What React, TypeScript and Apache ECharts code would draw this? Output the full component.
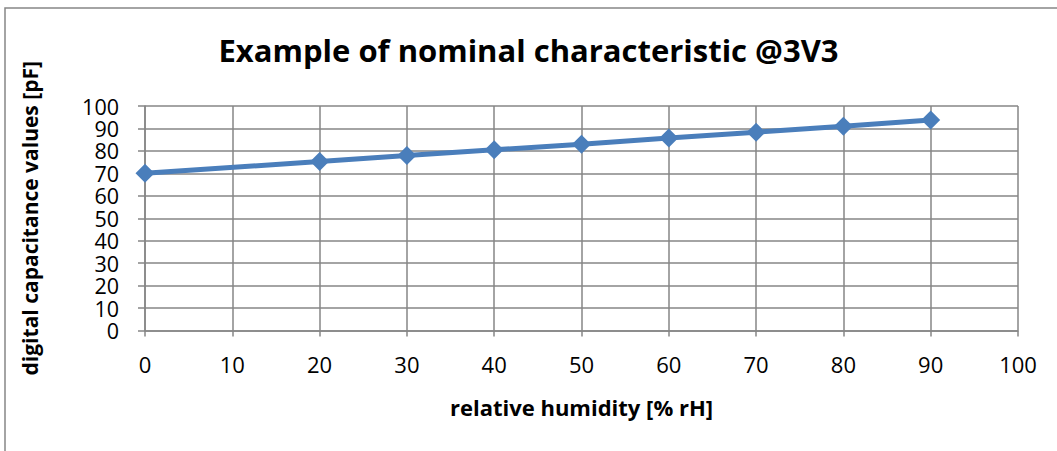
import React, { useEffect, useRef } from "react";
import * as echarts from "echarts";

const humidity = [0, 20, 30, 40, 50, 60, 70, 80, 90];
const capacitance = [70, 75.3, 78, 80.5, 83, 85.7, 88.3, 91, 93.8];
const titleText = "Example of nominal characteristic @3V3";
const xName = "relative humidity [% rH]";
const yName = "digital capacitance values [pF]";

const FONT = "'Open Sans', 'Liberation Sans', sans-serif";
const GRID_COLOR = "#868686";

export default function App() {
  const ref = useRef<HTMLDivElement>(null);
  useEffect(() => {
    if (!ref.current) return;
    const chart = echarts.init(ref.current, undefined, { renderer: "svg" });
    chart.setOption({
      animation: false,
      backgroundColor: "#ffffff",
      textStyle: { fontFamily: FONT },
      title: {
        text: titleText,
        left: "center",
        top: 29,
        textStyle: { fontFamily: FONT, fontSize: 31, fontWeight: "bold", color: "#000" },
      },
      graphic: [
        {
          type: "rect",
          shape: { x: 5, y: 8, width: 1200, height: 600 },
          style: { fill: "none", stroke: GRID_COLOR, lineWidth: 1.5 },
          silent: true,
        },
      ],
      grid: { left: 145, top: 106, width: 873, height: 224.5, containLabel: false },
      xAxis: {
        type: "value",
        min: 0,
        max: 100,
        interval: 10,
        name: xName,
        nameLocation: "middle",
        nameGap: 65,
        nameTextStyle: { fontFamily: FONT, fontSize: 22, fontWeight: "bold", color: "#000" },
        axisLine: { show: true, lineStyle: { color: GRID_COLOR, width: 1.5 } },
        axisTick: { show: true, length: 6, lineStyle: { color: GRID_COLOR, width: 1.5 } },
        axisLabel: { fontFamily: FONT, fontSize: 22, color: "#000", margin: 22 },
        splitLine: { show: true, lineStyle: { color: GRID_COLOR, width: 1.5 } },
      },
      yAxis: {
        type: "value",
        min: 0,
        max: 100,
        interval: 10,
        name: yName,
        nameLocation: "middle",
        nameGap: 105,
        nameTextStyle: { fontFamily: FONT, fontSize: 21, fontWeight: "bold", color: "#000" },
        axisLine: { show: true, lineStyle: { color: GRID_COLOR, width: 1.5 } },
        axisTick: { show: true, length: 7, lineStyle: { color: GRID_COLOR, width: 1.5 } },
        axisLabel: { fontFamily: FONT, fontSize: 21.5, color: "#000", margin: 26, lineHeight: 19 },
        splitLine: { show: true, lineStyle: { color: GRID_COLOR, width: 1.5 } },
      },
      series: [
        {
          type: "line",
          data: humidity.map((h, i) => [h, capacitance[i]]),
          symbol: "diamond",
          symbolSize: 19,
          lineStyle: { color: "#4a7ebb", width: 5 },
          itemStyle: { color: "#4a7ebb" },
          showSymbol: true,
        },
      ],
    });
    return () => chart.dispose();
  }, []);
  return (
    <div
      ref={ref}
      style={{ position: "fixed", left: 0, top: 0, width: 1057, height: 451 }}
    />
  );
}
